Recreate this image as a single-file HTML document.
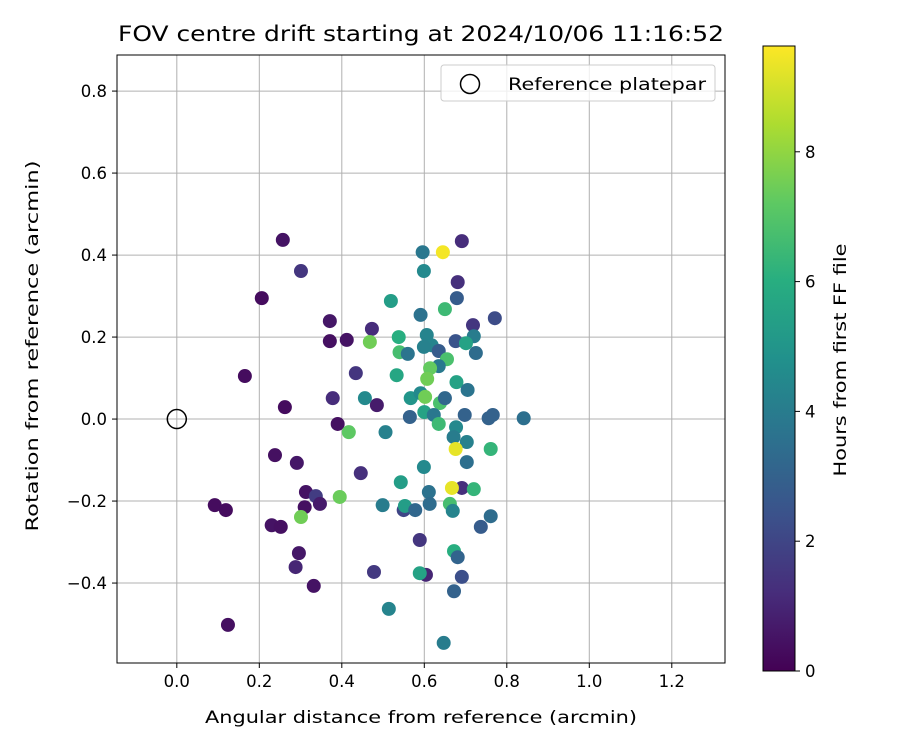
<!DOCTYPE html>
<html><head><meta charset="utf-8"><style>
body{margin:0;background:#fff}
svg text{font-family:"DejaVu Sans","Liberation Sans",sans-serif;fill:#000}
</style></head><body>
<svg id="c" width="900" height="750" viewBox="0 0 900 750" xmlns="http://www.w3.org/2000/svg">
<defs><linearGradient id="vir" x1="0" y1="1" x2="0" y2="0">
<stop offset="0" stop-color="#440154"/><stop offset="0.125" stop-color="#472d7b"/><stop offset="0.25" stop-color="#3b528b"/><stop offset="0.375" stop-color="#2c728e"/><stop offset="0.5" stop-color="#21918c"/><stop offset="0.625" stop-color="#28ae80"/><stop offset="0.75" stop-color="#5ec962"/><stop offset="0.875" stop-color="#addc30"/><stop offset="1" stop-color="#fde725"/></linearGradient></defs>
<text x="118" y="41" font-size="21" textLength="606" lengthAdjust="spacingAndGlyphs">FOV centre drift starting at 2024/10/06 11:16:52</text>
<g id="grid"></g><g id="pts"></g><g id="axes"></g>
<g>
<rect x="441" y="65" width="274" height="36" rx="3" fill="#fff" fill-opacity="0.8" stroke="#ccc"/>
<circle cx="470" cy="84" r="9.5" fill="none" stroke="#000" stroke-width="1.5"/>
<text x="508" y="90" font-size="17" textLength="198" lengthAdjust="spacingAndGlyphs">Reference platepar</text></g>
<g id="cbar">
<rect x="763" y="46" width="32" height="625" fill="url(#vir)" stroke="#000" stroke-width="1"/>
</g>
<text transform="translate(846,360) rotate(-90)" font-size="17" text-anchor="middle" textLength="233" lengthAdjust="spacingAndGlyphs">Hours from first FF file</text>
<text x="421" y="723" font-size="17" text-anchor="middle" textLength="432" lengthAdjust="spacingAndGlyphs">Angular distance from reference (arcmin)</text>
<text transform="translate(38,346) rotate(-90)" font-size="17" text-anchor="middle" textLength="371" lengthAdjust="spacingAndGlyphs">Rotation from reference (arcmin)</text>
</svg>
<script>
const xs=[0.257,0.301,0.206,0.371,0.371,0.412,0.473,0.434,0.165,0.378,0.485,0.262,0.390,0.238,0.291,0.446,0.092,0.119,0.313,0.310,0.337,0.347,0.230,0.252,0.296,0.288,0.332,0.124,0.301,0.395,0.417,0.468,0.478,0.691,0.596,0.645,0.599,0.681,0.679,0.519,0.650,0.591,0.771,0.718,0.720,0.676,0.701,0.725,0.538,0.540,0.560,0.606,0.618,0.599,0.635,0.655,0.635,0.614,0.607,0.533,0.456,0.567,0.591,0.602,0.638,0.650,0.565,0.600,0.623,0.635,0.678,0.705,0.698,0.756,0.766,0.841,0.506,0.677,0.671,0.703,0.676,0.761,0.703,0.599,0.543,0.611,0.691,0.667,0.720,0.499,0.550,0.553,0.578,0.613,0.662,0.669,0.761,0.737,0.589,0.672,0.681,0.604,0.589,0.691,0.672,0.514,0.647];
const ys=[0.437,0.361,0.295,0.239,0.190,0.193,0.220,0.112,0.105,0.051,0.034,0.029,-0.012,-0.088,-0.107,-0.132,-0.210,-0.222,-0.178,-0.215,-0.188,-0.207,-0.259,-0.263,-0.327,-0.361,-0.407,-0.502,-0.239,-0.190,-0.032,0.188,-0.373,0.434,0.407,0.407,0.361,0.334,0.295,0.288,0.268,0.254,0.246,0.229,0.202,0.190,0.185,0.161,0.200,0.163,0.159,0.205,0.180,0.176,0.166,0.146,0.129,0.124,0.098,0.107,0.051,0.051,0.063,0.054,0.039,0.051,0.005,0.017,0.010,-0.012,0.090,0.071,0.010,0.002,0.010,0.002,-0.032,-0.020,-0.044,-0.056,-0.073,-0.073,-0.105,-0.117,-0.154,-0.178,-0.168,-0.168,-0.171,-0.210,-0.222,-0.212,-0.222,-0.207,-0.207,-0.224,-0.237,-0.263,-0.295,-0.322,-0.337,-0.380,-0.376,-0.385,-0.420,-0.463,-0.546];
const hours=[0.5,1.5,0.3,0.6,0.4,0.5,1.2,1.5,0.3,1.2,0.7,0.3,0.4,0.4,0.6,1.3,0.3,0.3,0.5,0.4,1.7,0.7,0.5,0.4,0.6,1.0,0.5,0.4,7.5,7.4,7.2,7.5,1.6,1.2,3.8,9.5,4.5,1.3,2.8,5.3,6.5,3.6,2.2,1.5,4.0,2.5,5.5,3.4,6.0,6.7,3.7,4.3,4.3,4.2,2.8,6.8,3.9,7.3,7.5,5.7,4.5,5.0,4.5,7.5,6.8,3.2,3.0,5.5,3.8,6.5,5.5,3.7,3.0,3.0,3.0,3.5,4.2,4.5,4.0,4.2,9.3,6.3,3.5,4.5,5.3,3.6,1.3,9.3,6.3,4.0,2.0,5.3,3.2,3.4,6.7,4.3,3.4,2.8,1.5,6.0,3.1,1.0,5.5,2.3,3.0,4.3,4.0];
const xTicks=[0.0,0.2,0.4,0.6,0.8,1.0,1.2];
const yTicks=[-0.4,-0.2,0.0,0.2,0.4,0.6,0.8];
const cTicks=[0,2,4,6,8];
const X0=117,X1=725,Y0=55,Y1=663,xmin=-0.145,xmax=1.329,ymin=-0.595,ymax=0.888,hmax=9.63;
const sx=v=>X0+(v-xmin)/(xmax-xmin)*(X1-X0);
const sy=v=>Y1-(v-ymin)/(ymax-ymin)*(Y1-Y0);
const sc=v=>671-v/hmax*625;
const NS="http://www.w3.org/2000/svg";
function mk(t,a,p){const e=document.createElementNS(NS,t);for(const k in a)e.setAttribute(k,a[k]);p.appendChild(e);return e;}
const vs=[[68,1,84],[71,45,123],[59,82,139],[44,114,142],[33,145,140],[40,174,128],[94,201,98],[173,220,48],[253,231,37]];
function vir(t){t=Math.max(0,Math.min(1,t))*8;const i=Math.min(7,Math.floor(t)),f=t-i;const c=vs[i].map((a,k)=>Math.round(a+(vs[i+1][k]-a)*f));return`rgb(${c})`;}
const grid=document.getElementById('grid'),axes=document.getElementById('axes'),pts=document.getElementById('pts'),cb=document.getElementById('cbar');
xTicks.forEach(v=>{const x=sx(v);
const g=mk('line',{x1:x,x2:x,y1:Y0,y2:Y1,stroke:'#b0b0b0','stroke-width':1},grid);
mk('line',{x1:x,x2:x,y1:Y1,y2:Y1+5,stroke:'#000'},axes);
const t=mk('text',{x:x,y:Y1+24,'font-size':16.5,'text-anchor':'middle'},axes);t.textContent=v.toFixed(1);
});
yTicks.forEach(v=>{const y=sy(v);
const g=mk('line',{x1:X0,x2:X1,y1:y,y2:y,stroke:'#b0b0b0','stroke-width':1},grid);
mk('line',{x1:X0-5,x2:X0,y1:y,y2:y,stroke:'#000'},axes);
const t=mk('text',{x:X0-10,y:y+6,'font-size':16.5,'text-anchor':'end'},axes);t.textContent=(v<0?'\u2212':'')+Math.abs(v).toFixed(1);
});
const fr=mk('rect',{x:X0,y:Y0,width:X1-X0,height:Y1-Y0,fill:'none',stroke:'#000','stroke-width':1},axes);

xs.forEach((v,i)=>{const c=mk('circle',{cx:sx(v),cy:sy(ys[i]),r:7,fill:vir(hours[i]/hmax)},pts);
});
const rp=mk('circle',{cx:sx(0),cy:sy(0),r:9.5,fill:'none',stroke:'#000','stroke-width':1.5},pts);

cTicks.forEach(v=>{const y=sc(v);mk('line',{x1:795,x2:800,y1:y,y2:y,stroke:'#000'},cb);
const t=mk('text',{x:805,y:y+6,'font-size':16.5},cb);t.textContent=v;
});
</script>
</body></html>
